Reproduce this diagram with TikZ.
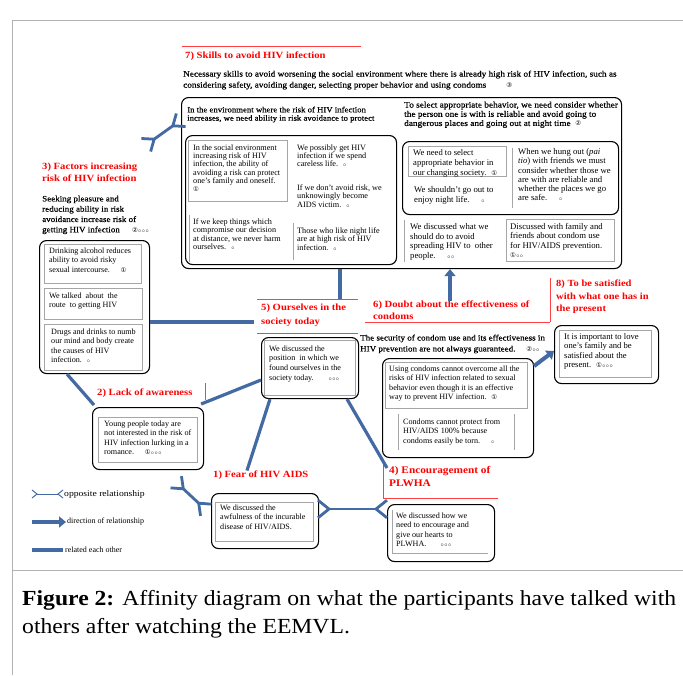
\documentclass[tikz,border=0pt]{standalone}
\usepackage{fontspec}
\setmainfont{Liberation Serif}
\newfontfamily\hdrfont{Liberation Serif}[FakeBold=0.5, FakeStretch=1.1]
\newfontfamily\wideserif{Liberation Serif}[FakeStretch=1.12]
\newfontfamily\capfont{Liberation Serif}[FakeStretch=1.1]
\newfontfamily\symfont{DejaVu Sans}
\usetikzlibrary{arrows.meta,calc}

\definecolor{linkblue}{RGB}{68,106,163}
\definecolor{titlered}{RGB}{255,0,0}

% circled numbers and small circles
\newcommand{\ci}[1]{{\symfont\fontsize{6.5}{6.5}\selectfont #1}}
\newcommand{\dt}{$\scriptscriptstyle\circ$}
% line with crow feet at both ends: style, from, to, foot length
\newcommand{\crowline}[4]{%
  \draw[#1] ($(#2)!#4!(#3)$) -- ($(#3)!#4!(#2)$);
  \draw[#1] ($(#2)!#4*0.8!90:(#3)$) -- ($(#2)!#4!(#3)$) -- ($(#2)!#4*0.8!-90:(#3)$);
  \draw[#1] ($(#3)!#4*0.8!90:(#2)$) -- ($(#3)!#4!(#2)$) -- ($(#3)!#4*0.8!-90:(#2)$);}

\tikzset{
  redtitle/.style={anchor=north west, inner sep=0pt, align=left, text=titlered, font=\wideserif\bfseries\fontsize{9.5}{12}\selectfont},
  hdrtext/.style={anchor=north west, inner sep=0pt, align=left, font=\hdrfont\fontsize{8.2}{11}\selectfont},
  boxtext/.style={anchor=north west, inner sep=0pt, align=left, font=\fontsize{8.1}{9.4}\selectfont},
  tighttext/.style={boxtext, font=\fontsize{8.2}{8.3}\selectfont},
  widetext/.style={boxtext, font=\fontsize{8.7}{9.5}\selectfont},
  legtext/.style={anchor=west, inner sep=0pt, font=\fontsize{8}{9}\selectfont},
  rbox/.style={draw, line width=1.1pt, rounded corners=7pt, anchor=north west, inner sep=0pt},
  gbox/.style={draw=gray!70, line width=0.8pt, anchor=north west, inner sep=0pt},
  gline/.style={draw=gray!70, line width=0.8pt},
  pinkline/.style={draw=red!75, line width=0.6pt},
  relline/.style={draw=linkblue, line width=3.2pt},
  dirarrow/.style={draw=linkblue, line width=4pt, -{Triangle[length=7pt,width=11pt]}},
  crowleg/.style={draw=linkblue, line width=1pt},
  crowfat/.style={draw=linkblue, line width=2.8pt},
}

\begin{document}
\begin{tikzpicture}[x=1pt,y=-1pt]
  \fill[white] (0,0) rectangle (683,675);
  \useasboundingbox (0,0) rectangle (683,675);
  % page frame
  \draw[gray!60, line width=0.6pt] (12,675) -- (12,20) -- (683,20);
  \draw[gray!60, line width=0.6pt] (12,570) -- (683,570);

  % 7) skills
  \draw[pinkline] (182,46) -- (361,46);
  \node[redtitle] (t7) at (185,51.5) {7) Skills to avoid HIV infection};
  \node[hdrtext, font=\hdrfont\fontsize{8.4}{11}\selectfont] (h7) at (183,70.5) {Necessary skills to avoid worsening the social environment where there is already high risk of HIV infection, such as\\considering safety, avoiding danger, selecting proper behavior and using condoms\hspace{20pt}\ci{③}};
  \node[rbox, minimum width=440, minimum height=171] (n7) at (181,97) {};
  \node[hdrtext, font=\hdrfont\fontsize{7.95}{8.4}\selectfont] (h7a) at (187,106.5) {In the environment where the risk of HIV infection\\increases, we need ability in risk avoidance to protect};
  \node[hdrtext, font=\hdrfont\fontsize{8.45}{9.2}\selectfont] (h7b) at (404,101.5) {To select appropriate behavior, we need consider whether\\the person one is with is reliable and avoid going to\\dangerous places and going out at night time \ \ci{②}};
  % left group
  \node[rbox, minimum width=211, minimum height=129] (n7a) at (185,135) {};
  \node[gbox, minimum width=99, minimum height=61] (g7a) at (188,140) {};
  \node[tighttext] (a1) at (193,144.5) {In the social environment\\increasing risk of HIV\\infection, the ability of\\avoiding a risk can protect\\one's family and oneself.\\\ci{①}};
  \node[tighttext] (a2) at (297,144.5) {We possibly get HIV\\infection if we spend\\careless life. \ \dt};
  \node[tighttext] (a3) at (297,184.5) {If we don't avoid risk, we\\unknowingly become\\AIDS victim. \ \dt};
  \node[tighttext] (a4) at (193,218.5) {If we keep things which\\compromise our decision\\at distance, we never harm\\ourselves. \ \dt};
  \node[tighttext] (a5) at (297,227.5) {Those who like night life\\are at high risk of HIV\\infection. \ \dt};
  \draw[gline] (189,215) -- (189,262);
  \draw[gline] (293,223) -- (293,260);
  % right group
  \node[rbox, minimum width=216, minimum height=73] (n7b) at (402,141) {};
  \node[gbox, minimum width=98, minimum height=30] (g7b) at (408,146) {};
  \node[widetext, font=\fontsize{8.6}{9.7}\selectfont] (b1) at (413,149.5) {We need to select\\appropriate behavior in\\our changing society. \ \ci{①}};
  \node[widetext] (b2) at (414,186.5) {We shouldn't go out to\\enjoy night life. \quad\dt};
  \node[widetext, font=\fontsize{8.7}{9.25}\selectfont] (b3) at (518,148.5) {When we hung out (\emph{pai}\\\emph{tio}) with friends we must\\consider whether those we\\are with are reliable and\\whether the places we go\\are safe. \quad\dt};
  \draw[gline] (512,148) -- (512,208);
  \node[widetext] (b4) at (410,223.5) {We discussed what we\\should do to avoid\\spreading HIV to \ other\\people. \quad\dt\dt};
  \draw[gline] (404,220) -- (404,262);
  \node[gbox, minimum width=108, minimum height=42] (g7c) at (506,219) {};
  \node[widetext, font=\fontsize{8.7}{9.1}\selectfont] (b5) at (510,223.5) {Discussed with family and\\friends about condom use\\for HIV/AIDS prevention.\\\ci{①}\dt\dt};

  % 3) factors
  \node[redtitle] (t3) at (42,162.5) {3) Factors increasing\\risk of HIV infection};
  \node[hdrtext, font=\hdrfont\fontsize{8.2}{10.3}\selectfont] (h3) at (42,195.5) {Seeking pleasure and\\reducing ability in risk\\avoidance increase risk of\\getting HIV infection \hspace{10pt}\ci{②}\dt\dt\dt};
  \node[rbox, minimum width=110, minimum height=133] (n3) at (39,240) {};
  \node[gbox, minimum width=97, minimum height=39] (g3a) at (44,244) {};
  \node[boxtext] (c1) at (49,247.5) {Drinking alcohol reduces\\ability to avoid risky\\sexual intercourse. \quad\ci{①}};
  \node[gbox, minimum width=98, minimum height=31] (g3b) at (44,288) {};
  \node[boxtext] (c2) at (49,292.5) {We talked \ about \ the\\route \ to getting HIV};
  \node[gbox, minimum width=98, minimum height=46] (g3c) at (44,324) {};
  \node[boxtext] (c3) at (51,328.5) {Drugs and drinks to numb\\our mind and body create\\the causes of HIV\\infection. \ \dt};

  % 5) ourselves
  \draw[pinkline] (257,299) -- (358,299);
  \draw[pinkline] (257,333) -- (358,333);
  \node[redtitle, font=\wideserif\bfseries\fontsize{9.5}{14}\selectfont] (t5) at (261,303.5) {5) Ourselves in the\\society today};
  \node[rbox, minimum width=97, minimum height=61] (n5) at (261,337) {};
  \node[gbox, minimum width=91, minimum height=55] (g5) at (264,340) {};
  \node[boxtext, font=\fontsize{8.1}{9.6}\selectfont] (e1) at (269,345.5) {We discussed the\\position \ in which we\\found ourselves in the\\society today. \hspace{12pt}\dt\dt\dt};

  % 6) doubt
  \draw[pinkline] (365,322) -- (550,322);
  \node[redtitle] (t6) at (373,300.5) {6) Doubt about the effectiveness of\\condoms};
  \node[hdrtext] (h6) at (360,334.5) {The security of condom use and its effectiveness in\\HIV prevention are not always guaranteed. \hspace{8pt}\ci{②}\dt\dt};
  \node[rbox, minimum width=151, minimum height=99] (n6) at (382,358) {};
  \node[gbox, minimum width=142, minimum height=46] (g6) at (385,362) {};
  \node[boxtext] (d1) at (389,365.5) {Using condoms cannot overcome all the\\risks of HIV infection related to sexual\\behavior even though it is an effective\\way to prevent HIV infection. \ \ci{①}};
  \draw[gline] (398,414) -- (398,450);
  \draw[gline] (514,414) -- (514,450);
  \node[boxtext] (d2) at (403,418.5) {Condoms cannot protect from\\HIV/AIDS 100\% because\\condoms easily be torn. \quad\dt};

  % 8) satisfied
  \draw[pinkline] (550,278) -- (550,322);
  \node[redtitle, font=\wideserif\bfseries\fontsize{9.4}{12.8}\selectfont] (t8) at (556,279.5) {8) To be satisfied\\with what one has in\\the present};
  \node[rbox, minimum width=104, minimum height=58] (n8) at (554,325) {};
  \node[gbox, minimum width=92, minimum height=47] (g8) at (559,330) {};
  \node[boxtext, font=\fontsize{8.6}{9.2}\selectfont] (f1) at (564,333.5) {It is important to love\\one's family and be\\satisfied about the\\present. \ \ci{①}\dt\dt\dt};

  % 2) lack of awareness
  \draw[pinkline] (205,383) -- (205,400);
  \node[redtitle] (t2) at (97,388.5) {2) Lack of awareness};
  \node[rbox, minimum width=111, minimum height=62] (n2) at (92,407) {};
  \node[gbox, minimum width=99, minimum height=45] (g2) at (98,417) {};
  \node[boxtext] (l1) at (104,420.5) {Young people today are\\not interested in the risk of\\HIV infection lurking in a\\romance. \quad\ci{①}\dt\dt\dt};

  % 1) fear
  \node[redtitle] (t1) at (213,470.5) {1) Fear of HIV AIDS};
  \node[rbox, minimum width=107, minimum height=55] (n1) at (211,493) {};
  \node[gbox, minimum width=98, minimum height=39] (g1) at (215,502) {};
  \node[boxtext] (r1) at (220,504.5) {We discussed the\\awfulness of the incurable\\disease of HIV/AIDS.};

  % 4) encouragement
  \draw[pinkline] (383,460) -- (383,498) -- (498,498);
  \node[redtitle, font=\wideserif\bfseries\fontsize{10.1}{13}\selectfont] (t4) at (389,466) {4) Encouragement of\\PLWHA};
  \node[rbox, minimum width=107, minimum height=57] (n4) at (387,504) {};
  \draw[gline] (392,510) -- (392,553) -- (488,553);
  \node[boxtext] (p1) at (396,512.5) {We discussed how we\\need to encourage and\\give our hearts to\\PLWHA. \hspace{12pt}\dt\dt\dt};

  % connectors
  \coordinate (t5top) at (340,299);
  \coordinate (t5left) at (254,322);
  \draw[relline] (n7.south -| t5top) -- (t5top);
  \draw[dirarrow] (t6.north -| 450,0) -- (n7.south -| 450,0);
  \draw[relline] (n3.east |- t5left) -- (t5left);
  \draw[relline] (n3.south -| 67,0) -- ([shift={(2,-2)}]n2.north west);
  \draw[relline] ([shift={(-3,-3)}]n2.north east) -- (n5.west |- 0,380);
  \draw[relline] (n5.south -| 270,0) -- (t1.north -| 247,0);
  \draw[relline] (n5.south -| 347,0) -- ([shift={(-2,2)}]t4.north west);
  \draw[dirarrow] (n6.east |- 0,366) -- (n8.west |- 0,351);
  % opposite relationships
  \coordinate (k1) at (318,509);
  \coordinate (k4) at (387,509);
  \crowline{crowfat}{k1}{k4}{11pt}
  \coordinate (k2) at (176,482);
  \coordinate (k1b) at (206,510);
  \crowline{crowfat}{k2}{k1b}{10pt}
  \coordinate (k3) at (146,145);
  \coordinate (k7) at (181,120);
  \crowline{crowfat}{k3}{k7}{10pt}

  % legend
  \coordinate (lgA) at (32,494);
  \coordinate (lgB) at (63,494);
  \crowline{crowleg}{lgA}{lgB}{5pt}
  \node[legtext, font=\wideserif\fontsize{8.6}{9}\selectfont] (lg1) at (64,494) {opposite relationship};
  \draw[dirarrow] (32,522) -- (66,522);
  \node[legtext] (lg2) at (67,522) {direction of relationship};
  \draw[relline] (32,550) -- (63,550);
  \node[legtext] (lg3) at (65,550) {related each other};

  % caption
  \node[anchor=north west, inner sep=0pt, align=left, font=\capfont\fontsize{21.5}{28}\selectfont] (cap) at (22,590) {\textbf{Figure 2:} Affinity diagram on what the participants have talked with\\others after watching the EEMVL.};
\end{tikzpicture}
\end{document}
